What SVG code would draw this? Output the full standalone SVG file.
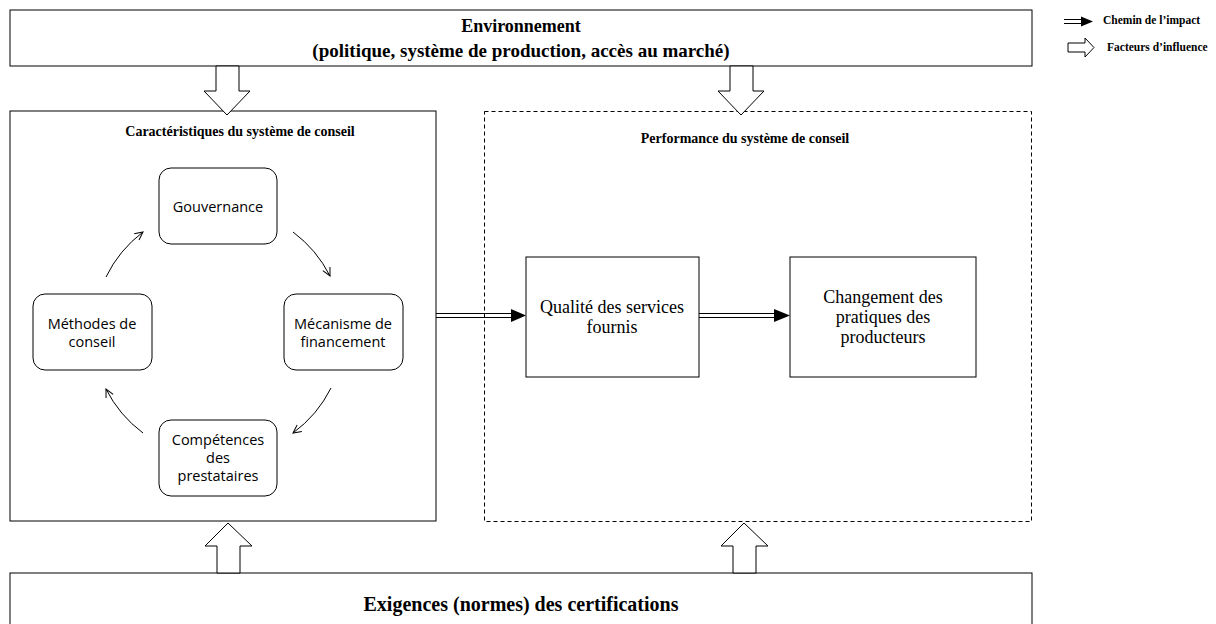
<svg xmlns="http://www.w3.org/2000/svg" width="1216" height="624" viewBox="0 0 1216 624">
<defs>
<style>
.box{fill:#fff;stroke:#000;stroke-width:1}
.dash{fill:none;stroke:#000;stroke-width:1;stroke-dasharray:4,3}
.rnd{fill:#fff;stroke:#000;stroke-width:1}
.big{font-family:"Liberation Serif",serif;font-weight:bold;text-anchor:middle}
.sub{font-family:"Liberation Serif",serif;font-weight:bold;font-size:14px;text-anchor:middle}
.leg{font-family:"Liberation Serif",serif;font-weight:bold;font-size:11.5px}
.n{font-family:"Open Sans","Liberation Sans",sans-serif;font-size:14.5px;text-anchor:middle}
.q{font-family:"Liberation Serif",serif;font-size:18px;text-anchor:middle}
.hollow{fill:#fff;stroke:#000;stroke-width:1}
.arc{fill:none;stroke:#000;stroke-width:1;marker-end:url(#open)}
.dbl{fill:none;stroke:#000;stroke-width:1}
</style>
<marker id="open" viewBox="0 0 10 10" refX="9" refY="5" markerWidth="10" markerHeight="10" markerUnits="userSpaceOnUse" orient="auto">
<path d="M1,1 L9,5 L1,9" fill="none" stroke="#000" stroke-width="1"/>
</marker>
</defs>
<rect width="1216" height="624" fill="#fff"/>

<g id="environnement">
<rect class="box" x="10" y="10" width="1022" height="56"/>
<text class="big" x="521" y="32" font-size="18">Environnement</text>
<text class="big" x="521" y="57" font-size="19">(politique, système de production, accès au marché)</text>
</g>

<g id="exigences">
<rect class="box" x="10" y="573" width="1022" height="60"/>
<text class="big" x="521" y="611" font-size="20">Exigences (normes) des certifications</text>
</g>

<g id="caracteristiques">
<rect class="box" x="10" y="111" width="426" height="410"/>
<text class="sub" x="240" y="136">Caractéristiques du système de conseil</text>
</g>

<g id="performance">
<rect class="dash" x="484.5" y="111.5" width="547" height="410"/>
<text class="sub" x="745" y="143">Performance du système de conseil</text>
</g>

<g id="gouvernance">
<rect class="rnd" x="159" y="168" width="118" height="76" rx="12"/>
<text class="n" x="218" y="212">Gouvernance</text>
</g>
<g id="methodes">
<rect class="rnd" x="33" y="294" width="119" height="76" rx="12"/>
<text class="n" x="92" y="329">Méthodes de</text>
<text class="n" x="92" y="347">conseil</text>
</g>
<g id="mecanisme">
<rect class="rnd" x="284" y="294" width="119" height="76" rx="12"/>
<text class="n" x="343" y="329">Mécanisme de</text>
<text class="n" x="343" y="347">financement</text>
</g>
<g id="competences">
<rect class="rnd" x="159" y="420" width="118" height="76" rx="12"/>
<text class="n" x="218" y="445">Compétences</text>
<text class="n" x="218" y="463">des</text>
<text class="n" x="218" y="481">prestataires</text>
</g>

<g id="qualite">
<rect class="box" x="526" y="257" width="173" height="120"/>
<text class="q" x="612" y="313">Qualité des services</text>
<text class="q" x="612" y="333">fournis</text>
</g>
<g id="changement">
<rect class="box" x="790" y="257" width="186" height="120"/>
<text class="q" x="883" y="303">Changement des</text>
<text class="q" x="883" y="323">pratiques des</text>
<text class="q" x="883" y="343">producteurs</text>
</g>

<g id="connectors">
<path class="arc" d="M106,277 A125,125 0 0 1 143,232"/>
<path class="arc" d="M293,232 A125,125 0 0 1 330,276"/>
<path class="arc" d="M331,388 A125,125 0 0 1 293,433"/>
<path class="arc" d="M143,433 A125,125 0 0 1 106,389"/>

<path class="dbl" d="M436,313.5 H514 M436,317.5 H514"/>
<path d="M511,309 L526,315.5 L511,322 Z" fill="#000"/>
<path class="dbl" d="M699,313.5 H777 M699,317.5 H777"/>
<path d="M774,309 L790,315.5 L774,322 Z" fill="#000"/>

<path class="hollow" d="M216,66 H239 V91 H250 L227,115 L204,91 H216 Z"/>
<path class="hollow" d="M730,66 H753 V91 H764 L741,115 L718,91 H730 Z"/>
<path class="hollow" d="M217,573 V546 H205 L228,523 L252,546 H240 V573 Z"/>
<path class="hollow" d="M733,573 V546 H721 L744,523 L768,546 H756 V573 Z"/>
</g>

<g id="legende">
<path class="dbl" d="M1064,19.5 H1084 M1064,23.5 H1084"/>
<path d="M1081,16.5 L1093,21.5 L1081,26.5 Z" fill="#000"/>
<text class="leg" x="1103" y="24">Chemin de l’impact</text>
<path class="hollow" d="M1068,43 H1085 V38 L1094,47.5 L1085,57 V52 H1068 Z"/>
<text class="leg" x="1107" y="51">Facteurs d’influence</text>
</g>
</svg>
